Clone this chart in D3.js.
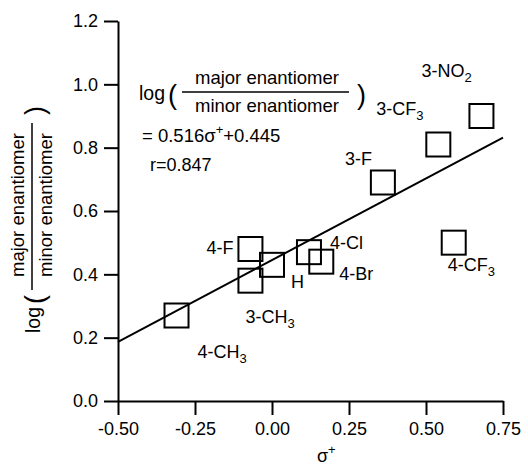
<!DOCTYPE html>
<html>
<head>
<meta charset="utf-8">
<script src="https://cdn.jsdelivr.net/npm/d3@7"></script>
<style>
  body { margin: 0; background: #fff; }
  svg { font-family: "Liberation Sans", Arial, sans-serif; }
</style>
</head>
<body>
<div id="chart"></div>
<script>
// Hammett data: substituent, sigma+ and log(major/minor)
const substituents = ['4-CH3', '3-CH3', '4-F', 'H', '4-Cl', '4-Br', '4-CF3', '3-F', '3-CF3', '3-NO2'];
const sigmaPlus = [-0.31, -0.07, -0.07, 0.0, 0.12, 0.16, 0.59, 0.36, 0.54, 0.68];
const logRatio = [0.27, 0.38, 0.48, 0.43, 0.47, 0.44, 0.5, 0.69, 0.81, 0.9];

const xTicks = [-0.5, -0.25, 0, 0.25, 0.5, 0.75];
const yTicks = [0, 0.2, 0.4, 0.6, 0.8, 1.0, 1.2];

// fitted line
const slope = 0.516;
const intercept = 0.445;
const rValue = 0.847;

// label placement relative to each square (pixels)
const labelDx = [21, -5, -17, 19, 21, 18, -6, -11, -62, -60];
const labelDy = [42, 42, 5, 23, -3, 18, 28, -18, -30, -39];
const labelAnchor = ['start', 'start', 'end', 'start', 'start', 'start', 'start', 'end', 'start', 'start'];

const width = 528;
const height = 465;
const margin = { left: 118, right: 25, top: 21, bottom: 64 };

const svg = d3.select('#chart')
  .append('svg')
  .attr('width', width)
  .attr('height', height);

const x = d3.scaleLinear()
  .domain([-0.5, 0.75])
  .range([margin.left, width - margin.right]);

const y = d3.scaleLinear()
  .domain([0, 1.2])
  .range([height - margin.bottom, margin.top]);

// axes
const xAxis = d3.axisBottom(x)
  .tickValues(xTicks)
  .tickFormat((d) => d.toFixed(2))
  .tickSize(14)
  .tickSizeOuter(0)
  .tickPadding(7);

const yAxis = d3.axisLeft(y)
  .tickValues(yTicks)
  .tickFormat((d) => d.toFixed(1))
  .tickSize(14)
  .tickSizeOuter(0)
  .tickPadding(6);

const gx = svg.append('g')
  .attr('transform', `translate(0, ${y(0)})`)
  .call(xAxis);

const gy = svg.append('g')
  .attr('transform', `translate(${x(-0.5)}, 0)`)
  .call(yAxis);

[gx, gy].forEach((g) => {
  g.selectAll('path, line').attr('stroke', '#000').attr('stroke-width', 2);
  g.selectAll('text')
    .attr('fill', '#000')
    .style('font-size', '18px')
    .style('font-family', '"Liberation Sans", Arial, sans-serif');
});

// regression line
const fit = d3.line()
  .x((d) => x(d))
  .y((d) => y(slope * d + intercept));

svg.append('path')
  .datum(x.domain())
  .attr('d', fit)
  .attr('fill', 'none')
  .attr('stroke', '#000')
  .attr('stroke-width', 2);

// data squares
const pts = substituents.map((name, i) => ({ name, sx: sigmaPlus[i], ly: logRatio[i], i }));
const sq = 24;

svg.selectAll('rect.pt')
  .data(pts)
  .enter()
  .append('rect')
  .attr('class', 'pt')
  .attr('x', (d) => x(d.sx) - sq / 2)
  .attr('y', (d) => y(d.ly) - sq / 2)
  .attr('width', sq)
  .attr('height', sq)
  .attr('fill', 'none')
  .attr('stroke', '#000')
  .attr('stroke-width', 2);

// substituent labels, trailing digits as subscripts
const labels = svg.selectAll('text.lab')
  .data(pts)
  .enter()
  .append('text')
  .attr('class', 'lab')
  .attr('x', (d) => x(d.sx) + labelDx[d.i])
  .attr('y', (d) => y(d.ly) + labelDy[d.i])
  .attr('text-anchor', (d) => labelAnchor[d.i])
  .style('font-size', '18px');

labels.each(function (d) {
  const t = d3.select(this);
  const m = d.name.match(/^(\d-[A-Za-z]+?)(\d?)$/);
  if (d.name === 'H' || !m) {
    t.text(d.name);
    return;
  }
  t.append('tspan').text(m[1]);
  if (m[2]) {
    t.append('tspan').attr('dy', 5).style('font-size', '13px').text(m[2]);
  }
});

// draws log( major / minor ) inside a group, origin at start of "log" baseline
function ratioLabel(g) {
  g.append('text').attr('x', 0).attr('y', 0)
    .style('font-size', '19.5px').text('log');
  g.append('text').attr('x', 29).attr('y', 4)
    .style('font-size', '27px').text('(');
  g.append('text').attr('x', 128).attr('y', -16)
    .attr('text-anchor', 'middle')
    .style('font-size', '18.5px').text('major enantiomer');
  g.append('line')
    .attr('x1', 43).attr('x2', 210)
    .attr('y1', -8).attr('y2', -8)
    .attr('stroke', '#000').attr('stroke-width', 1.5);
  g.append('text').attr('x', 128).attr('y', 12)
    .attr('text-anchor', 'middle')
    .style('font-size', '18.5px').text('minor enantiomer');
  g.append('text').attr('x', 218).attr('y', 4)
    .style('font-size', '27px').text(')');
}

// equation inside plot
ratioLabel(svg.append('g').attr('transform', 'translate(139, 100)'));

const eq = svg.append('text').attr('x', 142).attr('y', 142).style('font-size', '18.5px');
eq.append('tspan').text(`= ${slope.toFixed(3)}σ`);
eq.append('tspan').attr('dy', -8).style('font-size', '13px').text('+');
eq.append('tspan').attr('dy', 8).text(`+${intercept.toFixed(3)}`);

svg.append('text').attr('x', 150).attr('y', 171)
  .style('font-size', '18px')
  .text(`r=${rValue.toFixed(3)}`);

// y axis title (rotated)
ratioLabel(svg.append('g').attr('transform', 'translate(40, 333) rotate(-90)'));

// x axis title
const xt = svg.append('text')
  .attr('x', 317)
  .attr('y', 462)
  .style('font-size', '18px');
xt.append('tspan').text('σ');
xt.append('tspan').attr('dy', -8).style('font-size', '13px').text('+');
</script>
</body>
</html>
